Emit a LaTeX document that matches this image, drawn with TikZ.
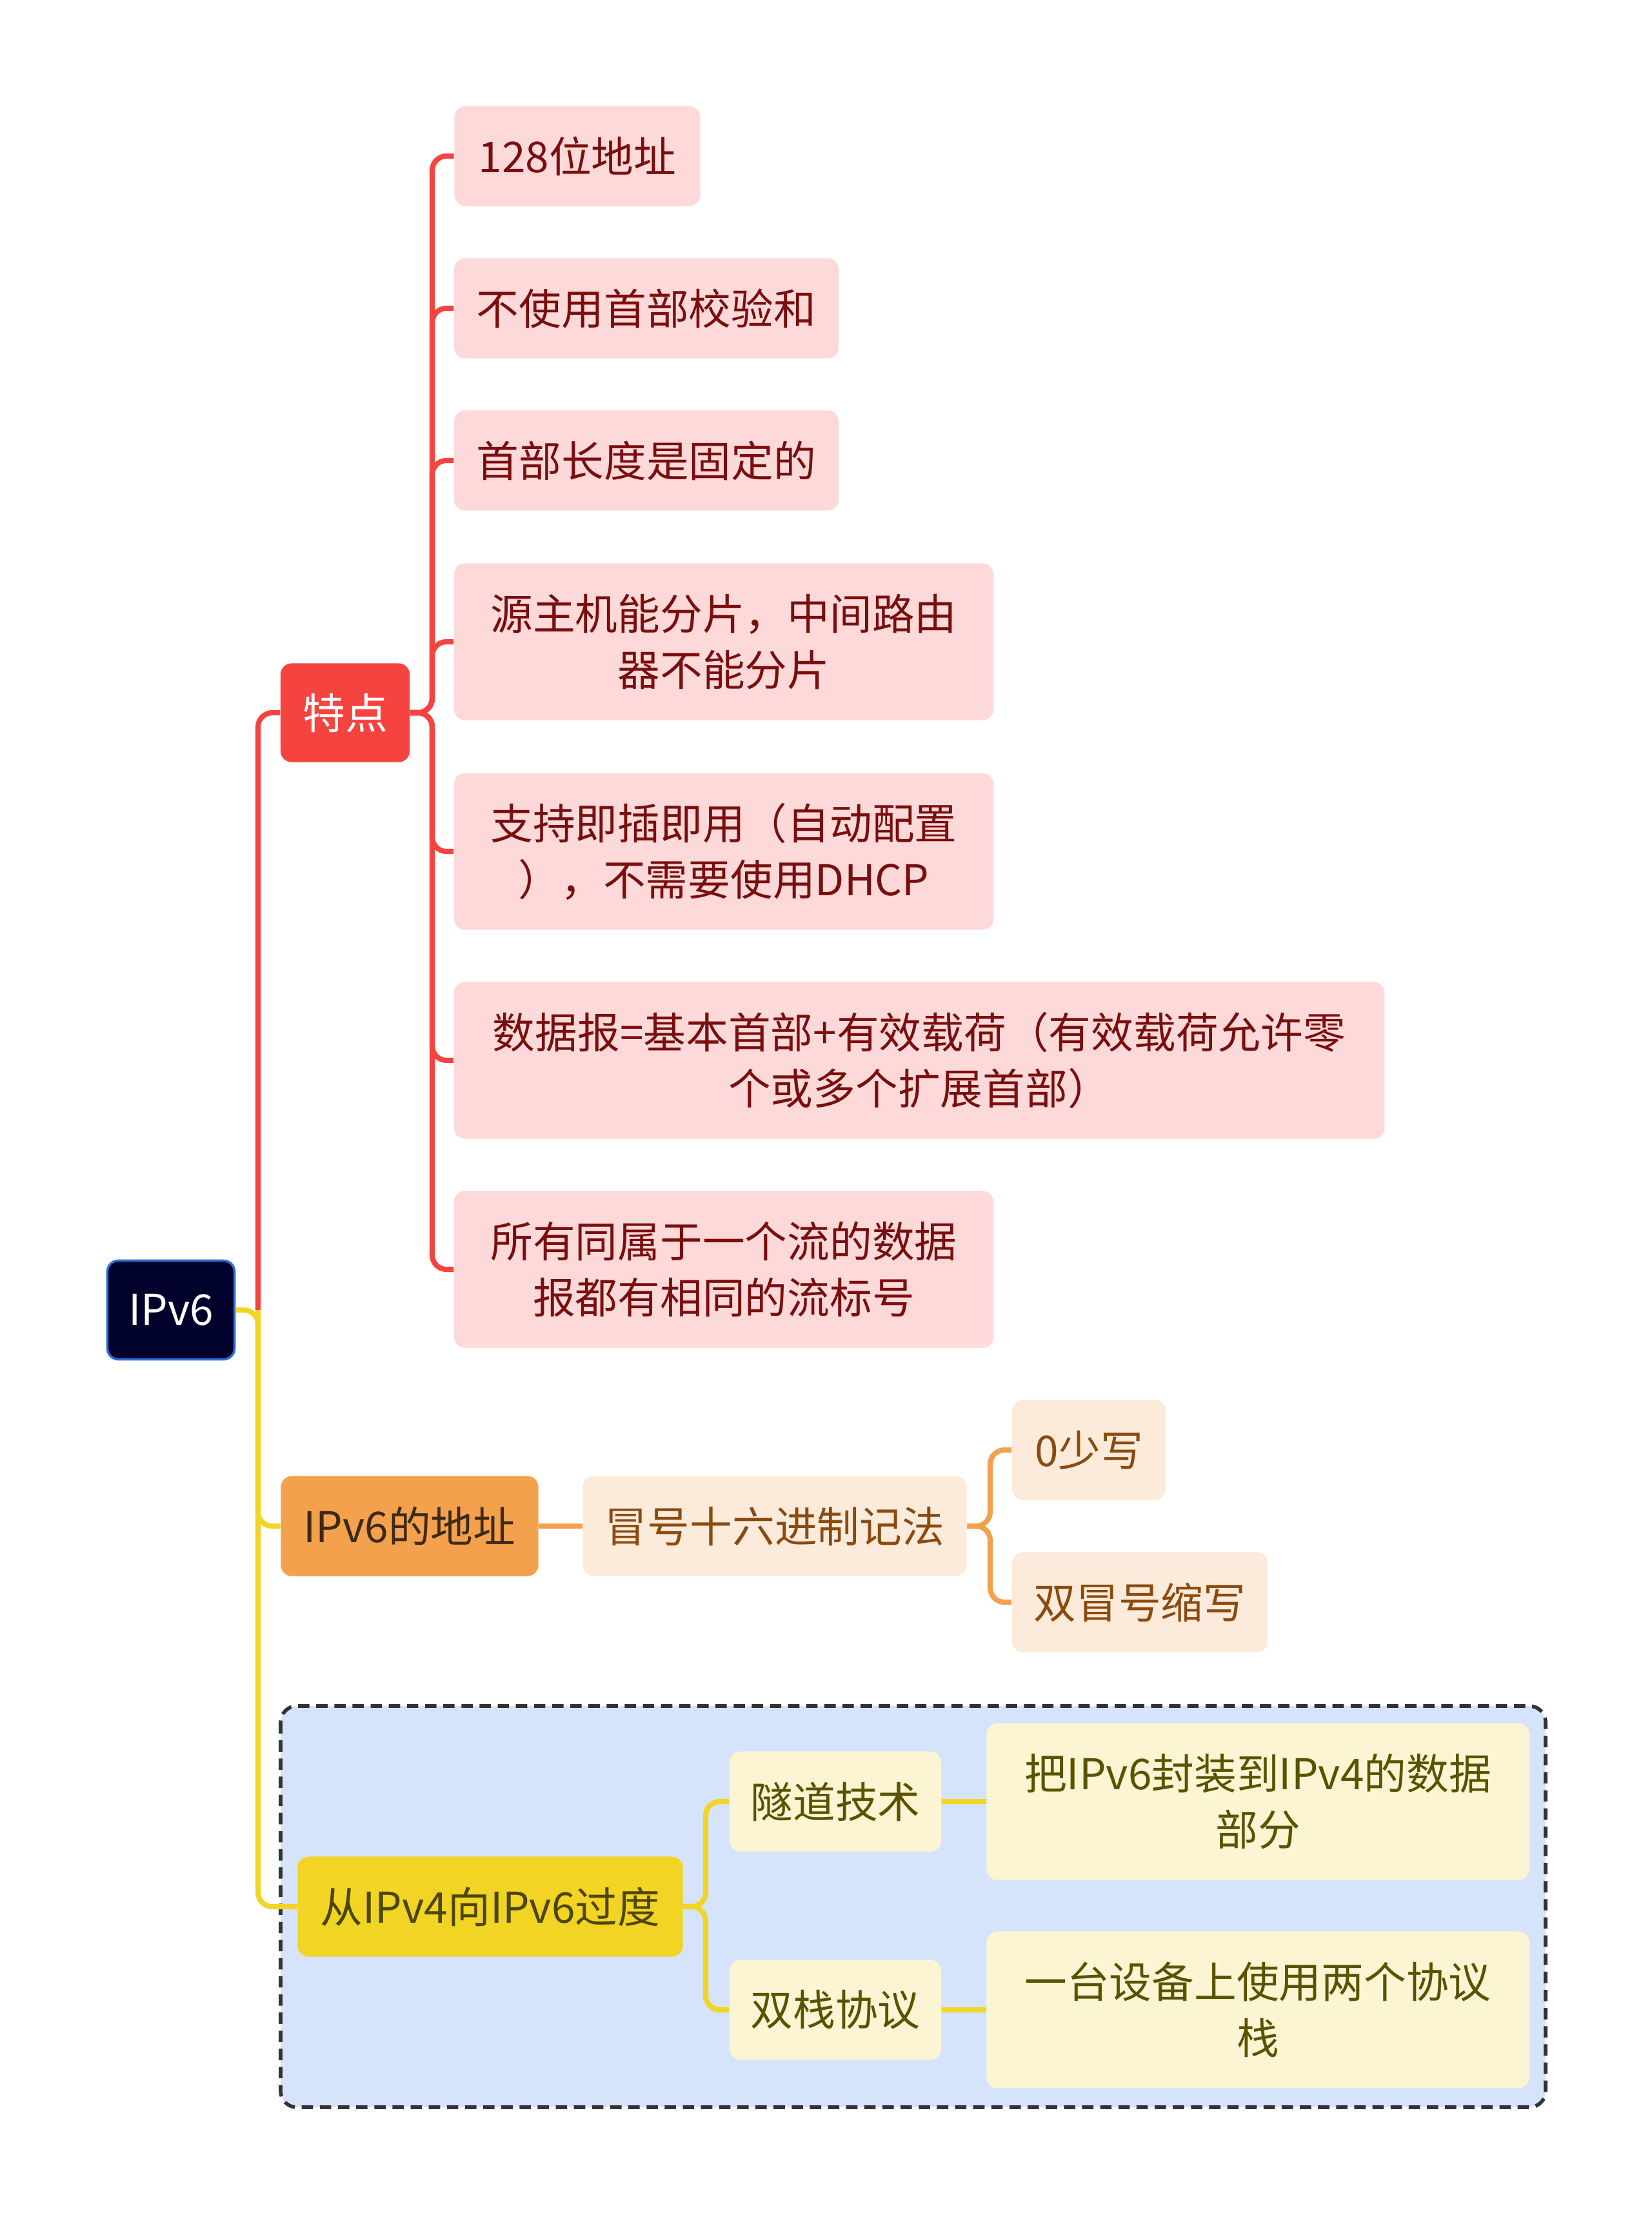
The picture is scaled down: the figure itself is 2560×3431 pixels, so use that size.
\documentclass[tikz,border=0pt]{standalone}
\usepackage{fontspec}
\setmainfont{Noto Sans CJK SC}
\usetikzlibrary{positioning}

\definecolor{rootfill}{HTML}{00022B}
\definecolor{rootline}{HTML}{2D6FD6}
\definecolor{redmain}{HTML}{F5443F}
\definecolor{redleaf}{HTML}{FDDAD9}
\definecolor{redtext}{HTML}{7A0E0E}
\definecolor{orgmain}{HTML}{F4A14E}
\definecolor{orgleaf}{HTML}{FCEBDA}
\definecolor{orgtext}{HTML}{8A4A10}
\definecolor{orgdark}{HTML}{3C2A14}
\definecolor{yelmain}{HTML}{F2D425}
\definecolor{yelleaf}{HTML}{FBF5D3}
\definecolor{yeltext}{HTML}{5B5200}
\definecolor{boxfill}{HTML}{D5E4FB}

\tikzset{
  box/.style={rounded corners=0.17cm, align=center, inner sep=0pt,
    minimum height=1.55cm, font=\fontsize{18.7}{24.8}\selectfont},
  tall/.style={minimum height=2.43cm},
  rootbox/.style={box, fill=rootfill, draw=rootline, line width=1pt, text=white},
  redbox/.style={box, fill=redmain, text=white},
  redleafbox/.style={box, fill=redleaf, text=redtext},
  orgbox/.style={box, fill=orgmain, text=orgdark},
  orgleafbox/.style={box, fill=orgleaf, text=orgtext},
  yelbox/.style={box, fill=yelmain, text=yeltext!85!black},
  yelleafbox/.style={box, fill=yelleaf, text=yeltext},
  redline/.style={draw=redmain, line width=2.3pt, rounded corners=0.22cm},
  orgline/.style={draw=orgmain, line width=2.3pt, rounded corners=0.22cm},
  yelline/.style={draw=yelmain, line width=2.3pt, rounded corners=0.22cm},
}

\begin{document}
\begin{tikzpicture}[x=0.01cm, y=-0.01cm]

\useasboundingbox (0,0) rectangle (2560,3431);

% dashed frame round the transition branch
\draw[fill=boxfill, draw=black!80, line width=1.6pt, dash pattern=on 5pt off 3pt,
  rounded corners=0.25cm] (435,2645) rectangle (2396,3267);

% root and first level
\node[rootbox, minimum width=1.97cm, minimum height=1.53cm] (ipv) at (265,2031) {IPv6};
\node[redbox, minimum width=2cm, minimum height=1.53cm] (tedian) at (535,1105) {特点};
\node[orgbox, minimum width=3.99cm] (addr) at (635,2366) {IPv6的地址};
\node[yelbox, minimum width=5.97cm] (trans) at (760,2956) {从IPv4向IPv6过度};

% features
\node[redleafbox, minimum width=3.81cm] (f1) at (895,242) {128位地址};
\node[redleafbox, minimum width=5.96cm] (f2) at (1002,478) {不使用首部校验和};
\node[redleafbox, minimum width=5.96cm] (f3) at (1002,714) {首部长度是固定的};
\node[redleafbox, tall, minimum width=8.36cm] (f4) at (1122,995) {源主机能分片，中间路由\\器不能分片};
\node[redleafbox, tall, minimum width=8.36cm] (f5) at (1122,1320) {支持即插即用（自动配置\\），不需要使用DHCP};
\node[redleafbox, tall, minimum width=14.42cm] (f6) at (1425,1644) {数据报=基本首部+有效载荷（有效载荷允许零\\个或多个扩展首部）};
\node[redleafbox, tall, minimum width=8.36cm] (f7) at (1122,1968) {所有同属于一个流的数据\\报都有相同的流标号};

% address notation
\node[orgleafbox, minimum width=5.95cm] (hex) at (1201,2366) {冒号十六进制记法};
\node[orgleafbox, minimum width=2.38cm] (zero) at (1688,2248) {0少写};
\node[orgleafbox, minimum width=3.96cm] (dbl) at (1767,2484) {双冒号缩写};

% transition
\node[yelleafbox, minimum width=3.28cm] (tun) at (1295,2793) {隧道技术};
\node[yelleafbox, minimum width=3.28cm] (dual) at (1295,3116) {双栈协议};
\node[yelleafbox, tall, minimum width=8.41cm] (tunx) at (1950,2793) {把IPv6封装到IPv4的数据\\部分};
\node[yelleafbox, tall, minimum width=8.41cm] (dualx) at (1950,3116) {一台设备上使用两个协议\\栈};

% connectors
\draw[redline] (400,2031) |- (tedian.west);
\draw[yelline] (ipv.east) -- (400,2031) |- (addr.west);
\draw[yelline] (400,2031) |- (trans.west);

\foreach \f in {f1,f2,f3,f4,f5,f6,f7}
  \draw[redline] (tedian.east) -- (670,1105) |- (\f.west);

\draw[orgline] (addr.east) -- (hex.west);
\draw[orgline] (hex.east) -- (1535,2366) |- (zero.west);
\draw[orgline] (hex.east) -- (1535,2366) |- (dbl.west);

\draw[yelline] (trans.east) -- (1094,2956) |- (tun.west);
\draw[yelline] (trans.east) -- (1094,2956) |- (dual.west);
\draw[yelline] (tun.east) -- (tunx.west);
\draw[yelline] (dual.east) -- (dualx.west);

\end{tikzpicture}
\end{document}
